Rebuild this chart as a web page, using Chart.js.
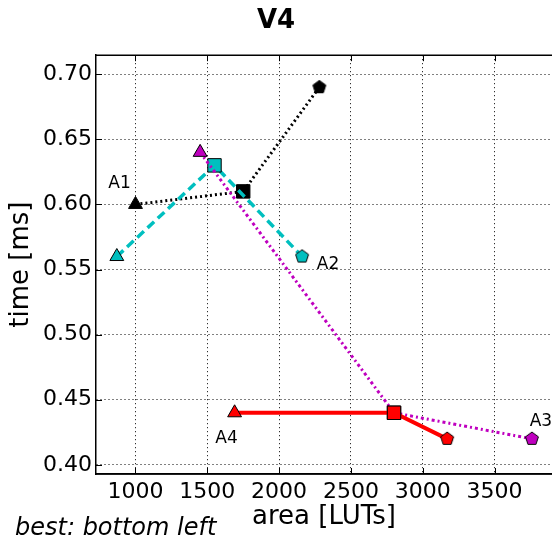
<!DOCTYPE html>
<html><head><meta charset="utf-8">
<script src="https://cdn.jsdelivr.net/npm/chart.js@4"></script>
<style>html,body{margin:0;padding:0;background:#fff}</style>
</head><body>
<canvas id="c" width="552" height="541"></canvas>
<script>
const seriesNames=["A1","A2","A3","A4"];
const a1Area=[1000,1750,2280], a1Time=[0.60,0.61,0.69];
const a2Area=[870,1550,2160],  a2Time=[0.56,0.63,0.56];
const a3Area=[1450,2800,3760], a3Time=[0.64,0.44,0.42];
const a4Area=[1690,2800,3170], a4Time=[0.44,0.44,0.42];
const xTicks=[1000,1500,2000,2500,3000,3500];
const yTicks=[0.40,0.45,0.50,0.55,0.60,0.65,0.70];

const FONT="DejaVu Sans";
Chart.defaults.font.family=FONT;
Chart.defaults.color="#000";

function pentagon(color,r){
  const s=Math.ceil(2*r+4), c=document.createElement("canvas");
  c.width=c.height=s;
  const g=c.getContext("2d");
  g.beginPath();
  for(let k=0;k<5;k++){
    const a=-Math.PI/2+k*2*Math.PI/5, px=s/2+r*Math.cos(a), py=s/2+r*Math.sin(a);
    k?g.lineTo(px,py):g.moveTo(px,py);
  }
  g.closePath();
  g.fillStyle=color; g.fill();
  g.strokeStyle="#000"; g.lineWidth=1; g.stroke();
  return c;
}
function pts(xs,ys){ return xs.map((x,i)=>({x,y:ys[i]})); }

function series(name,xs,ys,color,width,dash,order){
  return {
    label:name, data:pts(xs,ys), showLine:true, order, clip:false,
    borderColor:color, borderWidth:width, borderDash:dash,
    backgroundColor:color, pointBackgroundColor:color,
    pointBorderColor:"#000", pointBorderWidth:1,
    pointStyle:["triangle","rect",pentagon(color,6.8)],
    pointRadius:[8,9.5,7]
  };
}

// label text placed next to one end of each series (pixel offsets)
const notes=[{ds:0,pt:0,dx:-16,dy:-21},{ds:1,pt:2,dx:26,dy:8},{ds:2,pt:2,dx:9,dy:-17},{ds:3,pt:0,dx:-8,dy:26}];

const extras={id:"extras",afterDraw(chart){
  const {ctx,chartArea:a,scales:{x,y}}=chart;
  ctx.save();
  ctx.strokeStyle="#000"; ctx.lineWidth=1.5;
  ctx.beginPath();
  ctx.moveTo(a.left,a.top); ctx.lineTo(a.right+2,a.top);
  ctx.moveTo(a.left,a.bottom); ctx.lineTo(a.right+2,a.bottom);
  ctx.stroke();
  ctx.lineWidth=1;
  ctx.beginPath();
  for(const v of xTicks){
    const px=Math.round(x.getPixelForValue(v))+0.5;
    ctx.moveTo(px,a.bottom); ctx.lineTo(px,a.bottom-6);
    ctx.moveTo(px,a.top); ctx.lineTo(px,a.top+6);
  }
  for(const v of yTicks){
    const py=Math.round(y.getPixelForValue(v))+0.5;
    ctx.moveTo(a.left,py); ctx.lineTo(a.left+6,py);
  }
  ctx.stroke();
  ctx.fillStyle="#000";
  ctx.font="17px "+FONT; ctx.textAlign="center"; ctx.textBaseline="middle";
  for(const n of notes){
    const p=chart.data.datasets[n.ds].data[n.pt];
    ctx.fillText(seriesNames[n.ds],x.getPixelForValue(p.x)+n.dx,y.getPixelForValue(p.y)+n.dy);
  }
  ctx.font="italic 24px "+FONT; ctx.textAlign="left"; ctx.textBaseline="alphabetic";
  ctx.fillText("best: bottom left",15,535);
  ctx.restore();
}};

new Chart(document.getElementById("c"),{
  type:"scatter",
  data:{datasets:[
    series("A1",a1Area,a1Time,"#000000",3,[2,3],3),
    series("A2",a2Area,a2Time,"#00bfbf",3.5,[9,5],2),
    series("A3",a3Area,a3Time,"#bf00bf",3,[3,3,2,3],1),
    series("A4",a4Area,a4Time,"#ff0000",4,[],0)
  ]},
  options:{
    responsive:false, animation:false,
    layout:{padding:0,autoPadding:false},
    plugins:{
      legend:{display:false}, tooltip:{enabled:false},
      title:{display:true,text:"V4",color:"#000",font:{size:26,weight:"bold"},padding:{top:6,bottom:18}}
    },
    scales:{
      x:{type:"linear",min:725,max:3900,
        afterBuildTicks:s=>{s.ticks=xTicks.map(v=>({value:v}));},
        afterFit:s=>{s.height=67; s.paddingLeft=0; s.paddingRight=0;},
        grid:{color:"#000",lineWidth:1,drawTicks:false},
        border:{display:true,color:"#000",width:1.5,dash:[1,3]},
        ticks:{color:"#000",font:{size:22},padding:5,maxRotation:0,autoSkip:false,callback:v=>String(v)},
        title:{display:true,text:"area [LUTs]",color:"#000",font:{size:26},padding:{top:0,bottom:8}}
      },
      y:{type:"linear",min:0.393,max:0.7146,
        afterBuildTicks:s=>{s.ticks=yTicks.map(v=>({value:v}));},
        afterFit:s=>{s.width=96; s.paddingTop=0; s.paddingBottom=0;},
        grid:{color:"#000",lineWidth:1,drawTicks:false},
        border:{display:true,color:"#000",width:1.5,dash:[1,3]},
        ticks:{color:"#000",font:{size:22},padding:4,autoSkip:false,callback:v=>v.toFixed(2)},
        title:{display:true,text:"time [ms]",color:"#000",font:{size:26},padding:{top:6,bottom:0}}
      }
    }
  },
  plugins:[extras]
});
</script>
</body></html>
